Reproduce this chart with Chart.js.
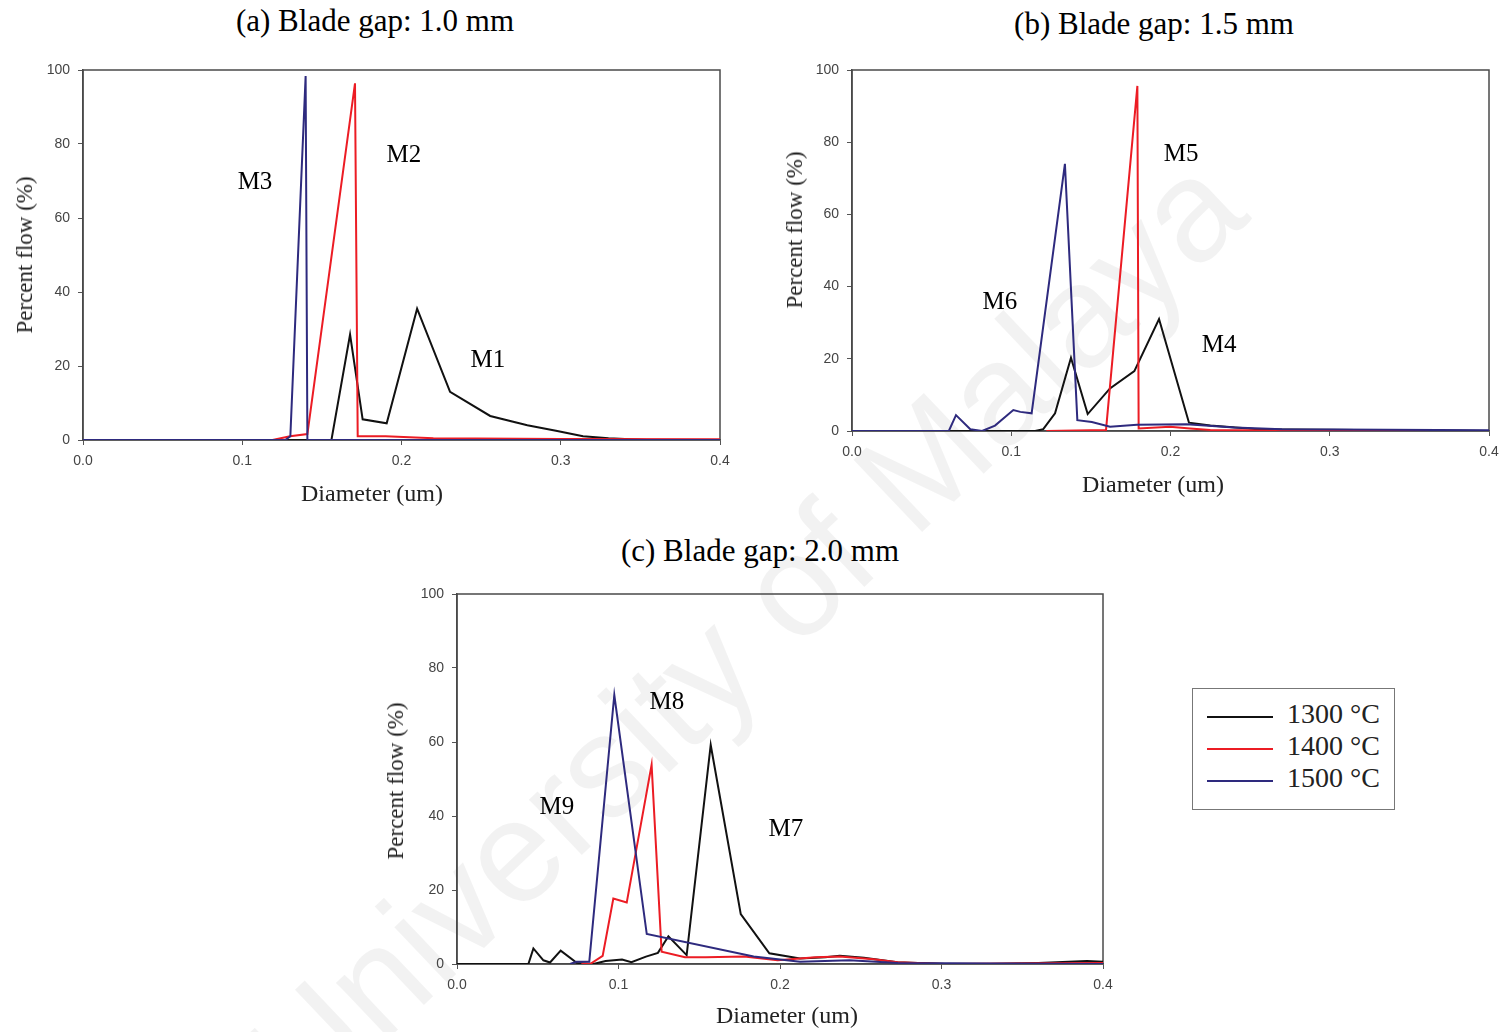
<!DOCTYPE html>
<html>
<head>
<meta charset="utf-8">
<script src="https://cdn.jsdelivr.net/npm/chart.js@4.4.1/dist/chart.umd.min.js"></script>
<style>
  body { margin: 0; background: #fff; width: 1505px; height: 1032px; position: relative; overflow: hidden; }
  .title { position: absolute; font-family: "Liberation Serif", "Times New Roman", serif; font-size: 31px; color: #000; transform: translate(-50%, -50%); white-space: nowrap; }
  .axisTitle { position: absolute; font-family: "Liberation Serif", "Times New Roman", serif; color: #222; white-space: nowrap; }
  .xTitle { font-size: 24px; transform: translate(-50%, -50%); }
  .yTitle { font-size: 23px; transform: translate(-50%, -50%) rotate(-90deg); }
  canvas { position: absolute; }
  #watermark { position: absolute; left: 745px; top: 632px; transform: translate(-50%, -50%) rotate(-43.5deg);
    font-family: "Liberation Sans", Arial, sans-serif; font-size: 145px; color: rgba(0,0,0,0.05); white-space: nowrap; }
  #legend { position: absolute; left: 1192px; top: 688px; width: 203px; height: 122px; border: 1px solid #777; box-sizing: border-box; }
  .legRow { position: absolute; left: 14px; height: 32px; width: 190px; }
  .legLine { position: absolute; left: 0; top: 15px; width: 66px; height: 2px; }
  .legText { position: absolute; left: 80px; top: -3px; font-family: "Liberation Serif", "Times New Roman", serif; font-size: 28px; color: #222; white-space: nowrap; }
</style>
</head>
<body>
<div id="watermark">University of Malaya</div>

<div class="title" style="left:375px; top:21px;">(a) Blade gap: 1.0 mm</div>
<div class="title" style="left:1154px; top:24px;">(b) Blade gap: 1.5 mm</div>
<div class="title" style="left:760px; top:551px;">(c) Blade gap: 2.0 mm</div>

<canvas id="chartA" width="730" height="470" style="left:0px; top:50px;"></canvas>
<canvas id="chartB" width="730" height="460" style="left:770px; top:50px;"></canvas>
<canvas id="chartC" width="745" height="457" style="left:370px; top:575px;"></canvas>

<div class="axisTitle yTitle" style="left:25px; top:255px;">Percent flow (%)</div>
<div class="axisTitle xTitle" style="left:372px; top:493px;">Diameter (um)</div>
<div class="axisTitle yTitle" style="left:795px; top:230px;">Percent flow (%)</div>
<div class="axisTitle xTitle" style="left:1153px; top:484px;">Diameter (um)</div>
<div class="axisTitle yTitle" style="left:396px; top:781px;">Percent flow (%)</div>
<div class="axisTitle xTitle" style="left:787px; top:1015px;">Diameter (um)</div>

<div id="legend"></div>

<script>
// series names and colours
const seriesNames = ["1300 °C", "1400 °C", "1500 °C"];
const seriesColors = ["#111111", "#ec1c24", "#2e2a7e"];

// axis ticks
const xTicks = [0.0, 0.1, 0.2, 0.3, 0.4];
const yTicks = [0, 20, 40, 60, 80, 100];

// (a) Blade gap 1.0 mm
const diamA1300 = [0, 0.156, 0.1677, 0.1756, 0.1907, 0.2098, 0.2305, 0.2557, 0.279, 0.297, 0.314, 0.33, 0.354, 0.4];
const flowA1300 = [0, 0, 28.5, 5.6, 4.5, 35.5, 13, 6.5, 4, 2.5, 1, 0.5, 0, 0];
const diamA1400 = [0.101, 0.119, 0.13, 0.1409, 0.1708, 0.1725, 0.19, 0.22, 0.3, 0.4];
const flowA1400 = [0, 0, 1, 1.6, 96.4, 1, 1, 0.5, 0.3, 0.2];
const diamA1500 = [0, 0.127, 0.1302, 0.1398, 0.1409, 0.4];
const flowA1500 = [0, 0, 1, 98.4, 0, 0];

// (b) Blade gap 1.5 mm
const diamB1300 = [0, 0.115, 0.1201, 0.1275, 0.1375, 0.148, 0.162, 0.1773, 0.1928, 0.2116, 0.225, 0.255, 0.4];
const flowB1300 = [0, 0, 0.5, 4.9, 20.3, 4.7, 11.8, 16.6, 31, 2.3, 1.5, 0.5, 0];
const diamB1400 = [0.122, 0.1595, 0.1792, 0.18, 0.1997, 0.2122, 0.225, 0.3, 0.4];
const flowB1400 = [0, 0.3, 95.6, 0.7, 1.2, 0.7, 0.3, 0, 0];
const diamB1500 = [0, 0.0608, 0.0653, 0.0743, 0.0817, 0.0898, 0.1013, 0.1057, 0.1128, 0.1337, 0.1415, 0.1506, 0.162, 0.179, 0.21, 0.24, 0.27, 0.4];
const flowB1500 = [0, 0, 4.4, 0.5, 0, 1.5, 5.8, 5.3, 4.9, 74, 3.0, 2.5, 1.2, 1.7, 1.9, 1, 0.5, 0.2];

// (c) Blade gap 2.0 mm
const diamC1300 = [0, 0.0442, 0.0473, 0.0535, 0.0576, 0.0642, 0.0741, 0.0844, 0.092, 0.1022, 0.108, 0.117, 0.1244, 0.1309, 0.1422, 0.1571, 0.1757, 0.1934, 0.2124, 0.228, 0.237, 0.252, 0.2726, 0.302, 0.33, 0.36, 0.39, 0.4];
const flowC1300 = [0, 0, 4.2, 1, 0.4, 3.6, 0.3, 0, 0.8, 1.2, 0.5, 2, 3, 7.5, 2.4, 59.2, 13.5, 2.9, 1.5, 1.8, 2.2, 1.7, 0.5, 0, 0, 0.3, 0.8, 0.6];
const diamC1400 = [0.077, 0.0824, 0.0902, 0.0968, 0.1051, 0.1205, 0.1267, 0.1412, 0.154, 0.1778, 0.1985, 0.222, 0.237, 0.258, 0.273, 0.302, 0.36, 0.4];
const flowC1400 = [0, 0, 2.2, 17.7, 16.6, 53.8, 3.3, 1.8, 1.8, 2, 1, 1.8, 2, 1.3, 0.5, 0, 0.2, 0.3];
const diamC1500 = [0.07, 0.074, 0.0819, 0.0974, 0.1175, 0.1837, 0.2124, 0.243, 0.273, 0.4];
const flowC1500 = [0, 0.6, 0.6, 72.7, 8.1, 2, 0.6, 1, 0.3, 0];

// sample labels drawn inside each plot
const labelsA = [{ text: "M3", x: 0.108, y: 69.7 }, { text: "M2", x: 0.2015, y: 77 }, { text: "M1", x: 0.2543, y: 21.6 }];
const labelsB = [{ text: "M6", x: 0.0929, y: 35.5 }, { text: "M5", x: 0.2066, y: 76.7 }, { text: "M4", x: 0.2305, y: 23.8 }];
const labelsC = [{ text: "M9", x: 0.0619, y: 42.4 }, { text: "M8", x: 0.130, y: 70.8 }, { text: "M7", x: 0.2037, y: 36.5 }];

function toPoints(xs, ys) {
    return xs.map((x, i) => ({ x: x, y: ys[i] }));
}

const framePlugin = {
    id: 'frame',
    beforeDatasetsDraw(chart) {
        const a = chart.chartArea;
        const ctx = chart.ctx;
        ctx.save();
        ctx.strokeStyle = '#4a4a4a';
        ctx.lineWidth = 1.5;
        ctx.strokeRect(a.left, a.top, a.right - a.left, a.bottom - a.top);
        ctx.restore();
    }
};

const markLabelPlugin = {
    id: 'markLabels',
    afterDatasetsDraw(chart, args, opts) {
        const ctx = chart.ctx;
        ctx.save();
        ctx.font = '25px "Liberation Serif", "Times New Roman", serif';
        ctx.fillStyle = '#000';
        ctx.textAlign = 'center';
        ctx.textBaseline = 'middle';
        (opts.items || []).forEach(l => {
            ctx.fillText(l.text, chart.scales.x.getPixelForValue(l.x), chart.scales.y.getPixelForValue(l.y));
        });
        ctx.restore();
    }
};

function makeChart(id, series, labels, cfg) {
    const datasets = series.map((s, i) => ({
        label: seriesNames[i],
        data: toPoints(s[0], s[1]),
        borderColor: seriesColors[i],
        borderWidth: 2,
        pointRadius: 0,
        tension: 0,
        fill: false,
        order: [2, 1, 0][i]
    }));
    const tickFont = { family: '"Liberation Sans", Arial, sans-serif', size: 14 };
    return new Chart(document.getElementById(id), {
        type: 'line',
        data: { datasets: datasets },
        options: {
            responsive: false,
            animation: false,
            devicePixelRatio: 1,
            layout: { padding: { left: 0, right: cfg.padRight, top: cfg.padTop, bottom: 0 } },
            plugins: {
                legend: { display: false },
                tooltip: { enabled: false },
                markLabels: { items: labels }
            },
            scales: {
                x: {
                    type: 'linear',
                    min: xTicks[0],
                    max: xTicks[xTicks.length - 1],
                    afterBuildTicks: (scale) => { scale.ticks = xTicks.map(v => ({ value: v })); },
                    afterFit: (scale) => { scale.height = cfg.xAxisH; scale.paddingLeft = 0; scale.paddingRight = 0; },
                    grid: { drawOnChartArea: false, drawTicks: true, tickLength: 5, color: '#555' },
                    border: { display: true, color: '#4a4a4a', width: 1.5 },
                    ticks: {
                        font: tickFont, color: '#444', padding: 8, maxRotation: 0, autoSkip: false,
                        callback: (v) => Number(v).toFixed(1)
                    }
                },
                y: {
                    min: yTicks[0],
                    max: yTicks[yTicks.length - 1],
                    afterBuildTicks: (scale) => { scale.ticks = yTicks.map(v => ({ value: v })); },
                    afterFit: (scale) => { scale.width = cfg.yAxisW; scale.paddingTop = 0; scale.paddingBottom = 0; },
                    grid: { drawOnChartArea: false, drawTicks: true, tickLength: 5, color: '#555' },
                    border: { display: true, color: '#4a4a4a', width: 1.5 },
                    ticks: { font: tickFont, color: '#444', padding: 8, autoSkip: false }
                }
            }
        },
        plugins: [framePlugin, markLabelPlugin]
    });
}

makeChart('chartA', [[diamA1300, flowA1300], [diamA1400, flowA1400], [diamA1500, flowA1500]], labelsA,
    { padRight: 10, padTop: 20, xAxisH: 80, yAxisW: 83 });
makeChart('chartB', [[diamB1300, flowB1300], [diamB1400, flowB1400], [diamB1500, flowB1500]], labelsB,
    { padRight: 11, padTop: 20, xAxisH: 79, yAxisW: 82 });
makeChart('chartC', [[diamC1300, flowC1300], [diamC1400, flowC1400], [diamC1500, flowC1500]], labelsC,
    { padRight: 12, padTop: 19, xAxisH: 68, yAxisW: 87 });

// legend box
const legend = document.getElementById('legend');
seriesNames.forEach((name, i) => {
    const row = document.createElement('div');
    row.className = 'legRow';
    row.style.top = (12 + i * 32) + 'px';
    row.innerHTML = '<div class="legLine" style="background:' + seriesColors[i] + '"></div><div class="legText">' + name + '</div>';
    legend.appendChild(row);
});
</script>
</body>
</html>
